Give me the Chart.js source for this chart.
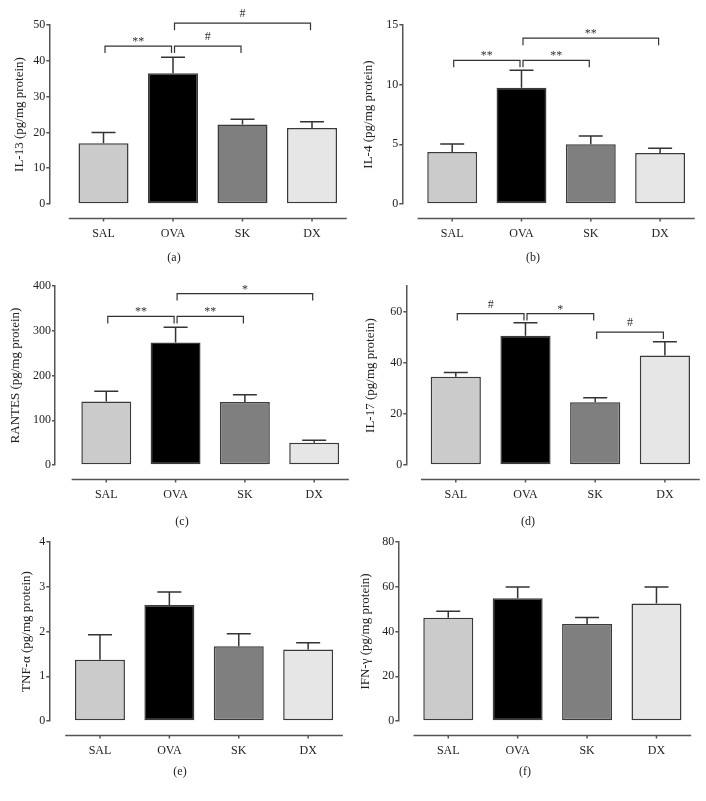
<!DOCTYPE html>
<html>
<head>
<meta charset="utf-8">
<script src="https://cdn.jsdelivr.net/npm/chart.js@4"></script>
<style>
  body { margin: 0; background: #fff; }
  #page { position: relative; width: 706px; height: 801px; overflow: hidden; }
  #page canvas { position: absolute; }
  .cap { position: absolute; width: 40px; text-align: center; line-height: 18px;
         font: 12px 'Liberation Serif', 'Times New Roman', serif; color: #222; }
</style>
</head>
<body>
<div id="page"></div>
<script>
// Groups and bar fills
const groups = ['SAL', 'OVA', 'SK', 'DX'];
const barColors = ['#cbcbcb', '#000000', '#7f7f7f', '#e6e6e6'];

// (a) IL-13
const il13Mean = [17.0, 36.5, 22.2, 21.2];
const il13Err = [3.0, 4.5, 1.5, 1.8];
const il13Ticks = [0, 10, 20, 30, 40, 50];
const il13Sig = [[0, 1, '**', 44.1], [1, 2, '#', 44.1], [1, 3, '#', 50.5]];

// (b) IL-4
const il4Mean = [4.35, 9.75, 5.0, 4.27];
const il4Err = [0.68, 1.45, 0.7, 0.4];
const il4Ticks = [0, 5, 10, 15];
const il4Sig = [[0, 1, '**', 12.04], [1, 2, '**', 12.04], [1, 3, '**', 13.9]];

// (c) RANTES
const rantesMean = [142, 274, 141, 50];
const rantesErr = [23, 34, 16, 5.5];
const rantesTicks = [0, 100, 200, 300, 400];
const rantesSig = [[0, 1, '**', 332], [1, 2, '**', 332], [1, 3, '*', 383]];

// (d) IL-17
const il17Mean = [34.5, 50.5, 24.5, 42.8];
const il17Err = [1.7, 5.1, 1.8, 5.4];
const il17Ticks = [0, 20, 40, 60];
const il17Sig = [[0, 1, '#', 59.2], [1, 2, '*', 59.2], [2, 3, '#', 52.0]];

// (e) TNF-alpha
const tnfMean = [1.37, 2.59, 1.67, 1.60];
const tnfErr = [0.56, 0.29, 0.28, 0.15];
const tnfTicks = [0, 1, 2, 3, 4];

// (f) IFN-gamma
const ifnMean = [46.1, 54.9, 43.4, 52.5];
const ifnErr = [3.0, 5.0, 2.9, 7.4];
const ifnTicks = [0, 20, 40, 60, 80];

Chart.defaults.font.family = "'Liberation Serif', 'Times New Roman', serif";
Chart.defaults.color = '#222';

const panels = [
  { cap: '(a)', title: 'IL-13 (pg/mg protein)', mean: il13Mean, err: il13Err, ticks: il13Ticks, yMax: 50, sig: il13Sig,
    left: 0, top: 25, zero: 204, axisX: 49.3, step: 69.5, xMin: -0.78, titlePad: 12.2, capAt: [174, 259] },
  { cap: '(b)', title: 'IL-4 (pg/mg protein)', mean: il4Mean, err: il4Err, ticks: il4Ticks, yMax: 15, sig: il4Sig,
    left: 353, top: 25, zero: 204, axisX: 49.3, step: 69.3, xMin: -0.72, titlePad: 7.6, capAt: [533, 259] },
  { cap: '(c)', title: 'RANTES (pg/mg protein)', mean: rantesMean, err: rantesErr, ticks: rantesTicks, yMax: 400, sig: rantesSig,
    left: 0, top: 285.7, zero: 465.3, axisX: 55, step: 69.3, xMin: -0.74, titlePad: 7.4, capAt: [182, 523] },
  { cap: '(d)', title: 'IL-17 (pg/mg protein)', mean: il17Mean, err: il17Err, ticks: il17Ticks, yMax: 70, sig: il17Sig,
    left: 353, top: 285.7, zero: 465.3, axisX: 53.3, step: 69.7, xMin: -0.71, titlePad: 9.4, capAt: [528, 523] },
  { cap: '(e)', title: 'TNF-α (pg/mg protein)', mean: tnfMean, err: tnfErr, ticks: tnfTicks, yMax: 4, sig: [],
    left: 0, top: 541.7, zero: 721, axisX: 49.3, step: 69.4, xMin: -0.73, titlePad: 18.9, capAt: [180, 773] },
  { cap: '(f)', title: 'IFN-γ (pg/mg protein)', mean: ifnMean, err: ifnErr, ticks: ifnTicks, yMax: 80, sig: [],
    left: 353, top: 541.7, zero: 721, axisX: 45.3, step: 69.4, xMin: -0.72, titlePad: 4.9, capAt: [525, 773] }
];

// error whiskers, offset x axis line and significance brackets
const sketch = {
  id: 'sketch',
  afterDatasetsDraw(chart, args, opts) {
    const { ctx, scales: { y } } = chart;
    const pts = chart.data.datasets[0].data;
    ctx.save();
    ctx.strokeStyle = '#333';
    ctx.lineWidth = 1.5;
    chart.getDatasetMeta(0).data.forEach((bar, i) => {
      const top = y.getPixelForValue(pts[i].y + opts.err[i]);
      ctx.beginPath();
      ctx.moveTo(bar.x, bar.y);
      ctx.lineTo(bar.x, top);
      ctx.moveTo(bar.x - 12, top);
      ctx.lineTo(bar.x + 12, top);
      ctx.stroke();
    });
    ctx.restore();
  },
  afterDraw(chart, args, opts) {
    const { ctx, scales: { x, y } } = chart;
    ctx.save();
    const base = y.getPixelForValue(0) + 14.5;
    ctx.strokeStyle = '#555';
    ctx.lineWidth = 1.5;
    ctx.beginPath();
    ctx.moveTo(x.getPixelForValue(-0.5), base);
    ctx.lineTo(x.right, base);
    groups.forEach((g, i) => {
      const px = x.getPixelForValue(i);
      ctx.moveTo(px, base);
      ctx.lineTo(px, base + 3);
    });
    ctx.stroke();

    ctx.strokeStyle = '#333';
    ctx.lineWidth = 1.2;
    ctx.fillStyle = '#333';
    ctx.font = "12px 'Liberation Serif', 'Times New Roman', serif";
    ctx.textAlign = 'center';
    ctx.textBaseline = 'alphabetic';
    opts.sig.forEach(([from, to, label, level]) => {
      const x1 = x.getPixelForValue(from) + 1.5;
      const x2 = x.getPixelForValue(to) - 1.5;
      const yy = y.getPixelForValue(level);
      ctx.beginPath();
      ctx.moveTo(x1, yy + 7);
      ctx.lineTo(x1, yy);
      ctx.lineTo(x2, yy);
      ctx.lineTo(x2, yy + 7);
      ctx.stroke();
      ctx.fillText(label, (x1 + x2) / 2, yy - (label[0] === '*' ? 1 : 6));
    });
    ctx.restore();
  }
};

const page = document.getElementById('page');
const X_H = 48;

panels.forEach(p => {
  const cv = document.createElement('canvas');
  cv.width = 353;
  cv.height = p.zero - p.top + 70;
  cv.style.left = p.left + 'px';
  cv.style.top = (p.top - 20) + 'px';
  page.appendChild(cv);

  const cap = document.createElement('div');
  cap.className = 'cap';
  cap.textContent = p.cap;
  cap.style.left = (p.capAt[0] - 20) + 'px';
  cap.style.top = (p.capAt[1] - 9) + 'px';
  page.appendChild(cap);

  const plotW = (3.5 - p.xMin) * p.step;

  new Chart(cv, {
    type: 'bar',
    data: {
      datasets: [{
        data: p.mean.map((v, i) => ({ x: i, y: v })),
        backgroundColor: barColors,
        borderColor: '#3a3a3a',
        borderWidth: 1.5,
        borderSkipped: false
      }]
    },
    options: {
      responsive: false,
      animation: false,
      layout: { padding: { left: 0, top: 20, right: 353 - p.axisX - plotW, bottom: 50 - X_H } },
      plugins: {
        legend: { display: false },
        tooltip: { enabled: false },
        sketch: { err: p.err, sig: p.sig }
      },
      scales: {
        x: {
          type: 'linear',
          offset: false,
          min: p.xMin,
          max: 3.5,
          afterBuildTicks: s => { s.ticks = groups.map((g, i) => ({ value: i })); },
          afterFit: s => { s.height = X_H; },
          grid: { display: false },
          border: { display: false },
          ticks: {
            padding: 15,
            autoSkip: false,
            maxRotation: 0,
            font: { size: 12 },
            callback: (v, i) => groups[i]
          }
        },
        y: {
          min: 0,
          max: p.yMax,
          afterBuildTicks: s => { s.ticks = p.ticks.map(v => ({ value: v })); },
          afterFit: s => { s.width = p.axisX; },
          grid: { drawOnChartArea: false, color: '#555', lineWidth: 1.5, tickLength: 3 },
          border: { color: '#555', width: 1.5 },
          ticks: { padding: 1, font: { size: 12 } },
          title: { display: true, text: p.title, font: { size: 13 }, padding: { top: p.titlePad, bottom: 0 } }
        }
      }
    },
    plugins: [sketch]
  });
});
</script>
</body>
</html>
